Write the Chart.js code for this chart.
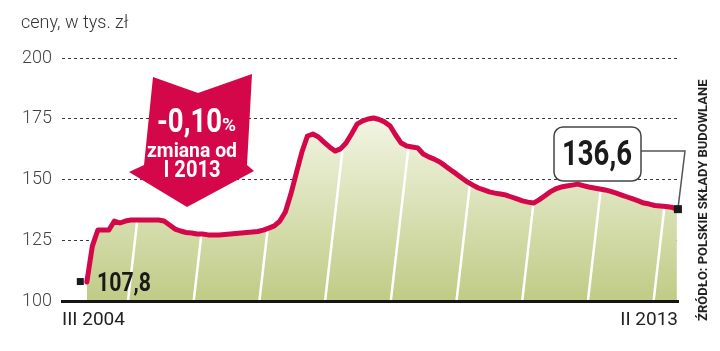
<!DOCTYPE html>
<html>
<head>
<meta charset="utf-8">
<script src="https://cdn.jsdelivr.net/npm/chart.js@4.4.0/dist/chart.umd.min.js"></script>
<style>
  html, body { margin: 0; padding: 0; background: #fff; }
</style>
</head>
<body>
<canvas id="canvasLine" width="720" height="351"></canvas>
<script>
// ceny, w tys. zł - dane miesięczne od III 2004 do II 2013
var tickLabels = ['III 2004', 'II 2013'];
var prices = [
  107.8, 122.6, 129.2, 129.2, 129.2, 132.9, 132.1, 132.9, 133.3, 133.3,
  133.3, 133.3, 133.3, 133.3, 132.9, 131.3, 129.6, 128.8, 128.2, 128.0,
  127.6, 127.6, 127.2, 127.2, 127.2, 127.4, 127.6, 127.8, 128.0, 128.2,
  128.4, 128.6, 129.2, 130.0, 130.9, 132.9, 136.6, 144.0, 152.7, 161.3,
  167.9, 168.7, 167.5, 165.4, 163.4, 161.7, 162.6, 165.0, 168.7, 172.8,
  174.1, 174.9, 175.3, 174.7, 173.7, 172.0, 168.3, 165.0, 163.8, 163.4,
  163.0, 160.5, 159.3, 158.4, 157.2, 155.6, 153.9, 152.3, 150.6, 149.0,
  147.7, 146.5, 145.7, 144.9, 144.4, 144.0, 143.6, 142.8, 142.0, 141.2,
  140.7, 140.3, 141.6, 143.2, 144.9, 146.1, 146.9, 147.3, 147.7, 148.1,
  147.5, 146.9, 146.5, 146.1, 145.7, 145.1, 144.4, 143.6, 142.8, 142.0,
  141.2, 140.3, 139.9, 139.3, 139.1, 138.9, 138.6, 137.8
];
var yMin = 100, yMax = 200, yStep = 25;

var titleText = 'ceny, w tys. zł';
var sourceText = 'ŹRÓDŁO: POLSKIE SKŁADY BUDOWLANE';
var startNote = '107,8';
var endNote = '136,6';
var changeNote = ['-0,10', '%', 'zmiana od', 'I 2013'];

var RED = '#d5074b';

// białe skośne pasy na polu pod linią
var stripes = {
  id: 'stripes',
  beforeDatasetDraw: function(chart, args) {
    var pts = args.meta.data;
    var a = chart.chartArea;
    var ctx = chart.ctx;
    ctx.save();
    ctx.beginPath();
    ctx.moveTo(pts[0].x, a.bottom);
    pts.forEach(function(p) { ctx.lineTo(p.x, p.y); });
    ctx.lineTo(pts[pts.length - 1].x, a.bottom);
    ctx.closePath();
    ctx.clip();
    ctx.strokeStyle = '#ffffff';
    ctx.lineWidth = 2.5;
    for (var sx = a.left + 66; sx < a.right; sx += 65.7) {
      ctx.beginPath();
      ctx.moveTo(sx, a.bottom);
      ctx.lineTo(sx + (a.bottom - a.top) * 0.115, a.top);
      ctx.stroke();
    }
    ctx.restore();
  }
};

// opisy, strzałka, znaczniki
var notes = {
  id: 'notes',
  afterDraw: function(chart) {
    var ctx = chart.ctx;
    var pts = chart.getDatasetMeta(0).data;
    var p0 = pts[0], pN = pts[pts.length - 1];
    ctx.save();

    // tytuł
    ctx.fillStyle = '#333';
    ctx.font = '300 18px Roboto';
    ctx.textAlign = 'left';
    ctx.textBaseline = 'alphabetic';
    ctx.fillText(titleText, 21, 28, 112);

    // źródło
    ctx.save();
    ctx.translate(704, 321);
    ctx.rotate(-Math.PI / 2);
    ctx.font = 'bold 13px Roboto';
    ctx.fillStyle = '#222';
    ctx.textBaseline = 'middle';
    ctx.fillText(sourceText, 0, 0, 256);
    ctx.restore();

    // strzałka
    ctx.fillStyle = RED;
    ctx.beginPath();
    ctx.moveTo(153, 77);
    ctx.lineTo(198, 93);
    ctx.lineTo(252, 74);
    ctx.lineTo(247, 165);
    ctx.lineTo(254, 171);
    ctx.lineTo(187, 207);
    ctx.lineTo(129, 172);
    ctx.lineTo(144, 165);
    ctx.closePath();
    ctx.fill();

    ctx.fillStyle = '#fff';
    ctx.textAlign = 'left';
    ctx.font = 'bold 33px Roboto';
    ctx.fillText(changeNote[0], 157, 132, 65);
    ctx.font = 'bold 19px Roboto';
    ctx.fillText(changeNote[1], 222, 131, 15);
    ctx.textAlign = 'center';
    ctx.font = 'bold 21px Roboto';
    ctx.fillText(changeNote[2], 192, 157, 90);
    ctx.font = 'bold 23px Roboto';
    ctx.fillText(changeNote[3], 192, 177, 57);

    // początek
    ctx.fillStyle = '#1a1a1a';
    ctx.fillRect(p0.x - 10, p0.y - 4, 7, 7);
    ctx.textAlign = 'left';
    ctx.font = 'bold 25px Roboto';
    ctx.fillText(startNote, 97, 291, 54);

    // koniec
    ctx.strokeStyle = '#555';
    ctx.lineWidth = 1.5;
    ctx.beginPath();
    ctx.moveTo(pN.x + 1, pN.y);
    ctx.lineTo(685, 151);
    ctx.lineTo(641, 151);
    ctx.stroke();
    ctx.fillRect(pN.x - 3, pN.y - 4, 8, 8);

    ctx.beginPath();
    ctx.roundRect(554, 127, 87, 54, 9);
    ctx.fillStyle = '#fff';
    ctx.fill();
    ctx.strokeStyle = '#444';
    ctx.stroke();
    ctx.fillStyle = '#1a1a1a';
    ctx.textAlign = 'center';
    ctx.font = 'bold 35px Roboto';
    ctx.fillText(endNote, 597, 165, 70);

    ctx.restore();
  }
};

var ctx = document.getElementById('canvasLine').getContext('2d');
var lineChart = new Chart(ctx, {
  type: 'line',
  data: {
    datasets: [{
      data: prices.map(function(v, i) { return { x: i, y: v }; }),
      borderColor: RED,
      borderWidth: 5,
      borderJoinStyle: 'round',
      borderCapStyle: 'round',
      pointRadius: 0,
      tension: 0,
      fill: 'start',
      backgroundColor: function(context) {
        var area = context.chart.chartArea;
        if (!area) return '#dfe5bf';
        var g = context.chart.ctx.createLinearGradient(0, area.top + 50, 0, area.bottom);
        g.addColorStop(0, '#f5f7e8');
        g.addColorStop(1, '#c0cb86');
        return g;
      }
    }]
  },
  options: {
    responsive: false,
    devicePixelRatio: 1,
    animation: false,
    layout: { padding: { top: 58, right: 42, left: 0, bottom: 0 } },
    plugins: { legend: { display: false }, tooltip: { enabled: false } },
    scales: {
      x: {
        type: 'linear',
        min: -4.5,
        max: 107.2,
        afterFit: function(s) { s.height = 50; },
        afterBuildTicks: function(s) { s.ticks = [{ value: s.min }, { value: s.max }]; },
        grid: { display: false },
        border: { display: true, color: '#151515', width: 3, z: 1 },
        ticks: {
          align: 'inner',
          autoSkip: false,
          maxRotation: 0,
          padding: 0,
          color: '#222',
          font: { family: 'Roboto', size: 19 },
          callback: function(v, i) { return tickLabels[i]; }
        }
      },
      y: {
        min: yMin,
        max: yMax,
        afterFit: function(s) { s.width = 62; },
        grid: { color: '#3a3a3a', lineWidth: 1, drawTicks: false },
        border: { display: false, dash: [3, 3] },
        ticks: {
          stepSize: yStep,
          padding: 10,
          color: '#444',
          font: { family: 'Roboto', size: 18, weight: '300' }
        }
      }
    }
  },
  plugins: [stripes, notes]
});
</script>
</body>
</html>
